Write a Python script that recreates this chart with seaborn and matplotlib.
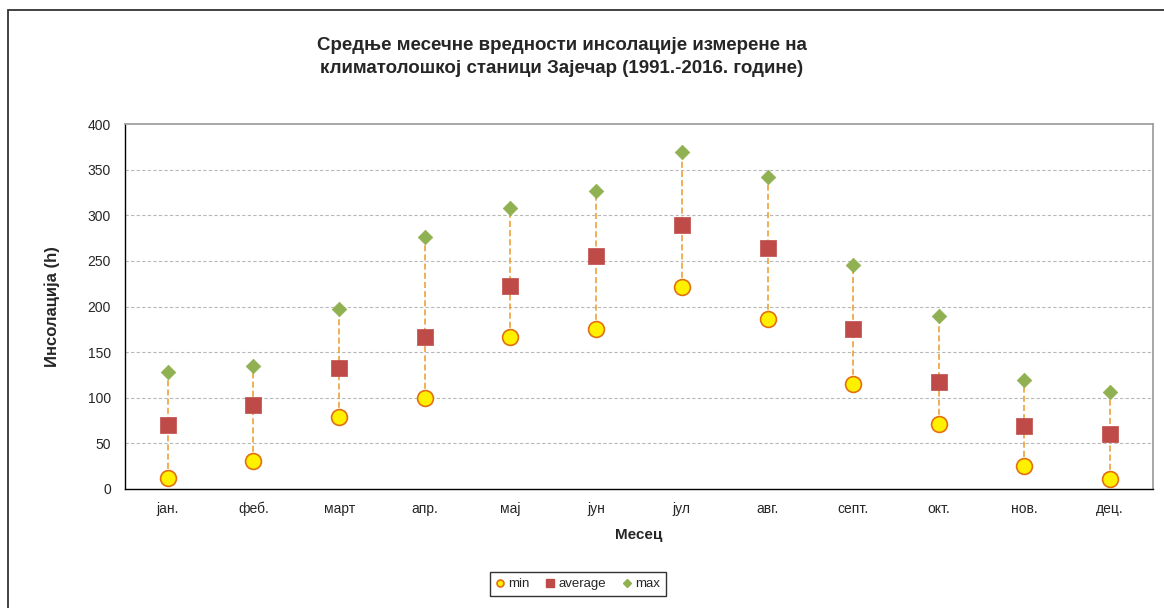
import matplotlib
matplotlib.use("Agg")
import matplotlib.pyplot as plt
from matplotlib.patches import Rectangle
from matplotlib.lines import Line2D
import seaborn as sns
import pandas as pd
import numpy as np

# Monthly sunshine duration, Zaječar station (1991-2016), hours
months = ["јан.", "феб.", "март", "апр.", "мај", "јун",
          "јул", "авг.", "септ.", "окт.", "нов.", "дец."]
min_vals = [12, 31, 79, 100, 167, 175, 221, 186, 115, 71, 25, 11]
avg_vals = [70, 92, 133, 167, 222, 255, 289, 264, 175, 117, 69, 60]
max_vals = [128, 135, 197, 276, 308, 327, 369, 342, 245, 190, 119, 106]
y_ticks = [0, 50, 100, 150, 200, 250, 300, 350, 400]

sns.set_theme(style="white")
plt.rcParams["font.family"] = ["Liberation Sans", "DejaVu Sans"]

df = pd.DataFrame({"pos": np.arange(len(months)), "month": months,
                   "min": min_vals, "average": avg_vals, "max": max_vals})

fig = plt.figure(figsize=(11.64, 6.08), dpi=100)
ax = fig.add_axes([125 / 1164, 1 - 489 / 608, 1028 / 1164, 365 / 608])

# high-low connectors
ax.vlines(df["pos"], df["min"], df["max"], colors="#EE9A2A", linestyles=(0, (4, 2)),
          linewidth=1.1, zorder=2)

sns.scatterplot(data=df, x="pos", y="max", ax=ax, marker="D", s=55,
                color="#8FB151", edgecolor="#8FB151", linewidth=0.5, zorder=3, legend=False)
sns.scatterplot(data=df, x="pos", y="average", ax=ax, marker="s", s=140,
                color="#BE4B48", edgecolor="#BE4B48", linewidth=0.5, zorder=3, legend=False)
sns.scatterplot(data=df, x="pos", y="min", ax=ax, marker="o", s=130,
                color="#FFF000", edgecolor="#E2700E", linewidth=1.2, zorder=4, legend=False)

ax.set_xlim(-0.5, len(months) - 0.5)
ax.set_ylim(0, 400)
ax.set_yticks(y_ticks)
ax.set_yticklabels([str(v) for v in y_ticks], fontsize=10)
ax.set_xticks(np.arange(-0.5, len(months), 1.0))
ax.set_xticklabels([])
ax.set_xticks(np.arange(len(months)), minor=True)
ax.set_xticklabels(months, minor=True, fontsize=10, va="baseline")
ax.tick_params(axis="x", which="major", direction="inout", length=8, width=1, color="black")
ax.tick_params(axis="x", which="minor", length=0, pad=17)
ax.tick_params(axis="y", which="major", direction="inout", length=8, width=1, color="black", pad=6)

for v in y_ticks[1:-1]:
    ax.axhline(v, color="#B8B8B8", linestyle=(0, (3, 2)), linewidth=0.8, zorder=1)

for side in ("left", "bottom"):
    ax.spines[side].set_color("black")
    ax.spines[side].set_linewidth(1.0)
for side in ("top", "right"):
    ax.spines[side].set_color("#A0A0A0")
    ax.spines[side].set_linewidth(1.3)

ax.set_xlabel("Месец", fontsize=11, fontweight="bold", labelpad=9)
ax.set_ylabel("Инсолација (h)", fontsize=12, fontweight="bold", labelpad=20)

fig.text(562 / 1164, 1 - 57 / 608,
         "Средње месечне вредности инсолације измерене на\n"
         "климатолошкој станици Зајечар (1991.-2016. године)",
         ha="center", va="center", fontsize=13.5, fontweight="bold", linespacing=1.45)

handles = [
    Line2D([], [], marker="o", linestyle="none", markersize=5,
           markerfacecolor="#FFF000", markeredgecolor="#E2700E", markeredgewidth=1.2),
    Line2D([], [], marker="s", linestyle="none", markersize=6,
           markerfacecolor="#BE4B48", markeredgecolor="#BE4B48"),
    Line2D([], [], marker="D", linestyle="none", markersize=4,
           markerfacecolor="#8FB151", markeredgecolor="#8FB151"),
]
leg = fig.legend(handles, ["min", "average", "max"], loc="center",
                 bbox_to_anchor=(578 / 1164, 1 - 584 / 608), ncol=3, fontsize=9.5,
                 frameon=True, fancybox=False, handlelength=0.6, handletextpad=0.3,
                 columnspacing=1.3, borderpad=0.45)
leg.get_frame().set_edgecolor("black")
leg.get_frame().set_linewidth(1.0)

# outer chart frame
fig.patches.append(Rectangle((8 / 1164, -0.05), 1.2, 1 - 10 / 608 + 0.05,
                             transform=fig.transFigure, fill=False,
                             edgecolor="#333333", linewidth=1.3))

fig.savefig("out.png", dpi=100, facecolor="white")
